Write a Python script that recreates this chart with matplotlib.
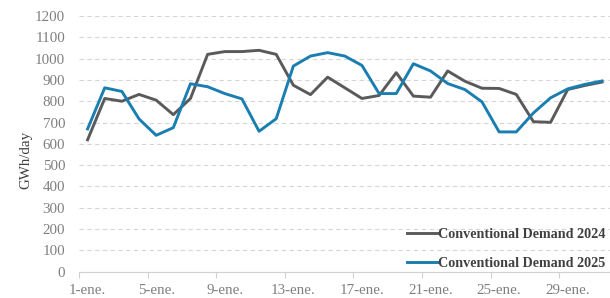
import matplotlib
matplotlib.use("Agg")
import matplotlib.pyplot as plt
import numpy as np

days = [f"{d}-ene." for d in range(1, 32)]
demand_2024 = [619, 813, 800, 832, 805, 737, 813, 1020, 1033, 1033, 1039, 1020, 875,
               831, 913, 863, 813, 827, 934, 824, 819, 942, 894, 861, 860, 832, 704,
               701, 855, 874, 890]
demand_2025 = [670, 863, 846, 717, 640, 676, 882, 868, 836, 811, 659, 718, 965,
               1012, 1028, 1012, 968, 836, 836, 976, 942, 883, 855, 797, 656, 656, 745,
               816, 858, 879, 895]
label_2024 = "Conventional Demand 2024"
label_2025 = "Conventional Demand 2025"

plt.rcParams['font.family'] = ['Liberation Serif', 'DejaVu Serif']

W, H = 610, 298
fig = plt.figure(figsize=(W / 100, H / 100), dpi=100)
ax = fig.add_axes([79 / W, 1 - 271.7 / H, (610.6 - 79) / W, (271.7 - 16) / H])

x = np.arange(len(days))
ax.plot(x, demand_2024, color="#5a5a5a", lw=2.1, label=label_2024, zorder=3)
ax.plot(x, demand_2025, color="#1a7fb0", lw=2.1, label=label_2025, zorder=3)

ax.set_xlim(-0.5, len(days) - 0.5)
ax.set_ylim(0, 1200)
ax.set_yticks(np.arange(0, 1201, 100))
ax.tick_params(axis='y', length=0, pad=10, labelsize=10.8, labelcolor="#7f7f7f")

# category boundary ticks
ax.set_xticks(np.arange(-0.5, len(days), 4))
ax.set_xticklabels([])
ax.tick_params(axis='x', which='major', length=4, color="#d0d0d0", width=0.8)
ax.set_xticks(x[::4], minor=True)
ax.set_xticklabels(days[::4], minor=True)
ax.tick_params(axis='x', which='minor', length=0, pad=8.5, labelsize=10.8, labelcolor="#7f7f7f")

for s in ['top', 'right', 'left']:
    ax.spines[s].set_visible(False)
ax.spines['bottom'].set_color("#d0d0d0")
ax.spines['bottom'].set_linewidth(0.8)

ax.grid(axis='y', color="#d6d6d6", lw=0.8, linestyle=(0, (4, 3)))
ax.set_axisbelow(True)

fig.text(26 / W, 1 - 160 / H, "GWh/day", rotation=90, ha='center', va='center',
         fontsize=10.8, color="#404040")

leg = ax.legend(loc='lower right', bbox_to_anchor=(617 / W, 1 - 281 / H),
                bbox_transform=fig.transFigure, frameon=False,
                prop={'weight': 'bold', 'size': 10.2}, handlelength=2.2,
                handletextpad=0.0, labelspacing=1.1, borderpad=0.3)
for t in leg.get_texts():
    t.set_color("#404040")

fig.savefig("out.png", dpi=100)
